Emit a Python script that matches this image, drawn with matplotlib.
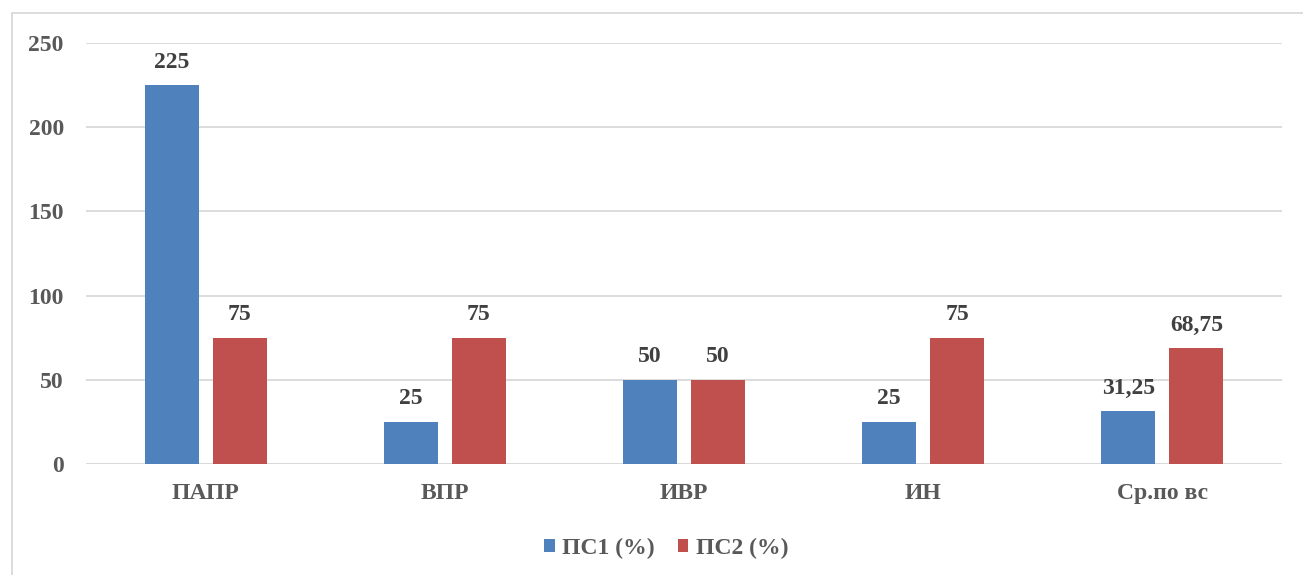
import matplotlib.pyplot as plt
import numpy as np
from matplotlib.patches import Rectangle

categories = ["ПАПР", "ВПР", "ИВР", "ИН", "Ср.по вс"]
ps1 = [225, 25, 50, 25, 31.25]
ps2 = [75, 75, 50, 75, 68.75]
series_names = ["ПС1 (%)", "ПС2 (%)"]
colors = ["#4F81BD", "#C0504D"]

plt.rcParams["font.family"] = ["Liberation Serif", "DejaVu Serif"]
plt.rcParams["font.weight"] = "bold"

W, H = 1303, 575
fig = plt.figure(figsize=(W / 100, H / 100), dpi=100)

# chart area border
fig.patches.append(Rectangle((12 / W, -0.01), 1.02, 1 - 13 / H + 0.01, transform=fig.transFigure,
                             fill=False, edgecolor="#D9D9D9", linewidth=1.3))

ax = fig.add_axes([86 / W, 1 - 464 / H, (1282 - 86) / W, (464 - 43) / H])

x = np.arange(len(categories))
width = 0.226
offset = 0.142


def fmt(v):
    return (f"{v:g}").replace(".", ",")


for vals, name, col, sgn in [(ps1, series_names[0], colors[0], -1), (ps2, series_names[1], colors[1], 1)]:
    bars = ax.bar(x + sgn * offset, vals, width, color=col, label=name, zorder=3)
    for b, v in zip(bars, vals):
        ax.annotate(fmt(v), (b.get_x() + b.get_width() / 2, v), xytext=(0, 9),
                    textcoords="offset points", ha="center", va="bottom",
                    fontsize=17, fontweight="bold", color="#404040")

ax.set_xlim(-0.5, len(categories) - 0.5)
ax.set_ylim(0, 250)
ax.set_yticks(range(0, 251, 50))
ax.grid(axis="y", color="#D9D9D9", linewidth=1.3, zorder=0)
for s in ax.spines.values():
    s.set_visible(False)
ax.axhline(0, color="#D9D9D9", linewidth=1.3, zorder=2)
ax.tick_params(axis="both", length=0, labelsize=17, labelcolor="#595959")
ax.tick_params(axis="y", pad=16)
ax.tick_params(axis="x", pad=14)
ax.set_xticks(x)
ax.set_xticklabels(categories, fontweight="bold")
for lbl in ax.get_yticklabels():
    lbl.set_fontweight("bold")

fig.legend(loc="center", bbox_to_anchor=(666 / W, 1 - 548 / H), ncol=2, frameon=False,
           fontsize=17, labelcolor="#595959", handlelength=0.45, handleheight=0.45,
           handletextpad=0.3, columnspacing=1.0)

plt.savefig("out.png", dpi=100)
